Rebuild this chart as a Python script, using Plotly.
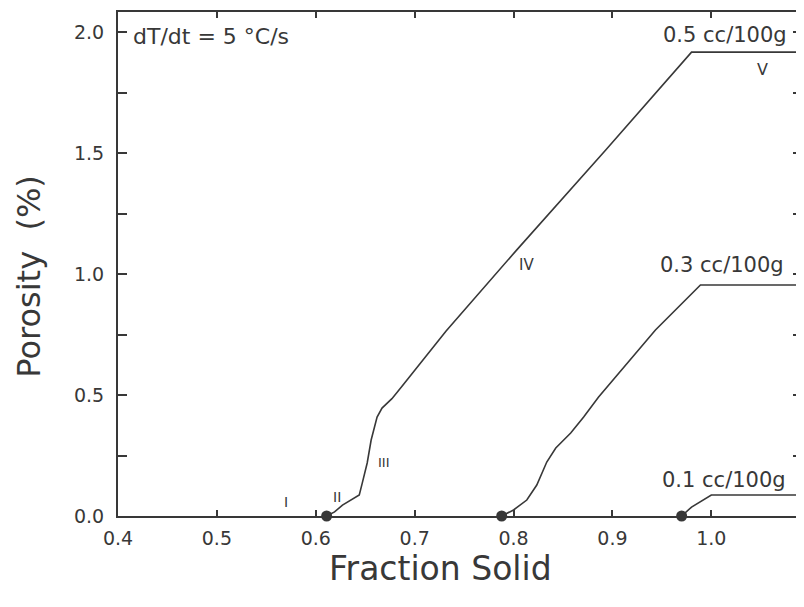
import plotly.graph_objects as go

# Fraction solid vs porosity for three hydrogen contents (dT/dt = 5 °C/s)
fs_05 = [0.611, 0.619, 0.627, 0.644, 0.647, 0.652, 0.656, 0.662, 0.667, 0.677,
         0.687, 0.7015, 0.7146, 0.7318, 0.8033, 0.893, 0.980, 1.10]
por_05 = [0.0, 0.017, 0.045, 0.087, 0.136, 0.219, 0.314, 0.409, 0.446, 0.485,
          0.535, 0.610, 0.680, 0.765, 1.100, 1.512, 1.917, 1.917]

fs_03 = [0.788, 0.800, 0.8134, 0.8235, 0.8336, 0.8427, 0.8578, 0.8709, 0.886,
         0.909, 0.9435, 0.989, 1.10]
por_03 = [0.0, 0.025, 0.066, 0.128, 0.223, 0.281, 0.343, 0.409, 0.492,
          0.603, 0.769, 0.955, 0.955]

fs_01 = [0.970, 0.980, 1.000, 1.10]
por_01 = [0.0, 0.037, 0.087, 0.087]

start_fs = [fs_05[0], fs_03[0], fs_01[0]]
start_por = [0.0, 0.0, 0.0]

x_ticks = [0.4, 0.5, 0.6, 0.7, 0.8, 0.9, 1.0]
y_ticks = [0.0, 0.5, 1.0, 1.5, 2.0]

INK = "#383838"
FONT = "DejaVu Sans"

fig = go.Figure()
for xs, ys in [(fs_05, por_05), (fs_03, por_03), (fs_01, por_01)]:
    fig.add_trace(go.Scatter(x=xs, y=ys, mode="lines",
                             line=dict(color=INK, width=1.6), showlegend=False))
fig.add_trace(go.Scatter(x=start_fs, y=start_por, mode="markers",
                         marker=dict(color=INK, size=11), showlegend=False,
                         cliponaxis=False))

ann = [
    ("dT/dt = 5 °C/s", 0.413, 1.98, "left", 22),
    ("0.5 cc/100g", 0.949, 1.99, "left", 21),
    ("V", 1.052, 1.845, "center", 16),
    ("IV", 0.8134, 1.037, "center", 15),
    ("0.3 cc/100g", 0.946, 1.037, "left", 21),
    ("III", 0.669, 0.223, "center", 13),
    ("II", 0.621, 0.080, "center", 14),
    ("I", 0.570, 0.058, "center", 14),
    ("0.1 cc/100g", 0.948, 0.149, "left", 21),
]
for text, x, y, anchor, size in ann:
    fig.add_annotation(x=x, y=y, text=text, showarrow=False, xanchor=anchor,
                       yanchor="middle", font=dict(family=FONT, size=size, color=INK))

# axis titles placed as annotations to match the original's offsets
fig.add_annotation(x=0.7257, xref="x", y=-0.105, yref="paper", text="Fraction Solid",
                   showarrow=False, xanchor="center", yanchor="middle",
                   font=dict(family=FONT, size=33, color=INK))
fig.add_annotation(x=-0.1297, xref="paper", y=0.99, yref="y", text="Porosity  (%)",
                   textangle=-90, showarrow=False, xanchor="center", yanchor="middle",
                   font=dict(family=FONT, size=32, color=INK))

fig.update_layout(
    width=796, height=591,
    margin=dict(l=110, r=0, t=4, b=83),
    paper_bgcolor="white", plot_bgcolor="white",
    font=dict(family=FONT, color=INK),
)
fig.update_xaxes(
    range=[0.4, 1.0917], tickvals=x_ticks, ticktext=[f"{v:.1f}" for v in x_ticks],
    ticks="inside", ticklen=6, tickwidth=1.5, tickcolor=INK,
    showline=True, linecolor=INK, linewidth=2, mirror="allticks",
    showgrid=False, zeroline=False,
    tickfont=dict(family=FONT, size=19, color=INK), ticklabelstandoff=4,
)
fig.update_yaxes(
    range=[0, 2.083], tickvals=y_ticks, ticktext=[f"{v:.1f}" for v in y_ticks],
    ticks="inside", ticklen=9, tickwidth=1.5, tickcolor=INK,
    minor=dict(dtick=0.25, ticks="inside", ticklen=9, tickwidth=1.5, tickcolor=INK),
    showline=True, linecolor=INK, linewidth=2, mirror="allticks",
    showgrid=False, zeroline=False,
    tickfont=dict(family=FONT, size=19, color=INK), ticklabelstandoff=8,
)

fig.write_html("out.html")
